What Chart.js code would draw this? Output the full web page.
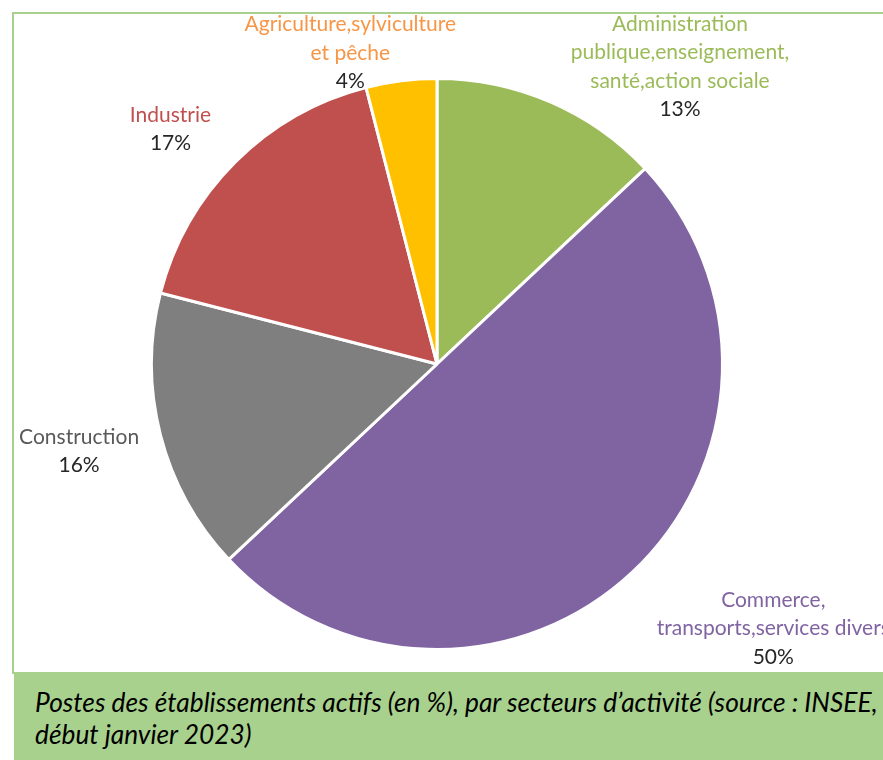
<!DOCTYPE html>
<html>
<head>
<meta charset="utf-8">
<script src="https://cdn.jsdelivr.net/npm/chart.js@4/dist/chart.umd.min.js"></script>
<style>
html, body { margin: 0; padding: 0; background: #fff; overflow: hidden; }
body { width: 883px; height: 760px; position: relative; }
#frame { position: absolute; left: 12px; top: 12px; width: 900px; height: 662px; border: 2px solid #a9d18e; box-sizing: border-box; }
#chart { position: absolute; left: 0; top: 0; }
#caption {
    position: absolute; left: 14px; top: 674px; width: 869px; height: 86px;
    background: #a9d18e; color: #000; box-sizing: border-box; padding: 12px 0 0 21px;
    font: italic 26.3px Lato, sans-serif; line-height: 32px; white-space: nowrap; overflow: hidden;
}
</style>
</head>
<body>
<div id="frame"></div>
<canvas id="chart" width="883" height="760"></canvas>
<div id="caption">Postes des établissements actifs (en %), par secteurs d’activité (source : INSEE,<br>début janvier 2023)</div>
<script>
// sectors, clockwise from the top
const SECTOR_LINES = [
    ['Administration', 'publique,enseignement,', 'santé,action sociale'],
    ['Commerce,', 'transports,services divers'],
    ['Construction'],
    ['Industrie'],
    ['Agriculture,sylviculture', 'et pêche'],
];
const SHARES = [13, 50, 16, 17, 4];

const SLICE_COLORS = ['#9bbb59', '#8064a2', '#7f7f7f', '#c0504d', '#ffc000'];
const LABEL_COLORS = ['#9bbb59', '#8064a2', '#595959', '#c0504d', '#f79646'];
const LABEL_NUDGE = [[97, 40], [87, -1], [-2, -4], [-22, 10], [-43, 35]];
const LABEL_FONT = '21px Lato, sans-serif';
const LINE_H = 28.5;
const GAP = 20;

const outsideLabels = {
    id: 'outsideLabels',
    afterDatasetsDraw(chart) {
        const ctx = chart.ctx;
        const meta = chart.getDatasetMeta(0);
        ctx.save();
        ctx.font = LABEL_FONT;
        ctx.textAlign = 'center';
        ctx.textBaseline = 'middle';
        meta.data.forEach((arc, i) => {
            const p = arc.getProps(['x', 'y', 'startAngle', 'endAngle', 'outerRadius'], true);
            const mid = (p.startAngle + p.endAngle) / 2;
            const ux = Math.cos(mid), uy = Math.sin(mid);
            const lines = [...SECTOR_LINES[i], SHARES[i] + '%'];
            const w = Math.max(...lines.map(l => ctx.measureText(l).width));
            const h = lines.length * LINE_H;
            const reach = Math.min(
                Math.abs(ux) > 1e-6 ? w / 2 / Math.abs(ux) : Infinity,
                Math.abs(uy) > 1e-6 ? h / 2 / Math.abs(uy) : Infinity
            );
            const d = p.outerRadius + GAP + reach;
            const cx = p.x + d * ux + LABEL_NUDGE[i][0];
            const cy = p.y + d * uy + LABEL_NUDGE[i][1];
            lines.forEach((l, k) => {
                ctx.fillStyle = k < lines.length - 1 ? LABEL_COLORS[i] : '#262626';
                ctx.fillText(l, cx, cy - h / 2 + LINE_H * (k + 0.5));
            });
        });
        ctx.restore();
    }
};

new Chart(document.getElementById('chart'), {
    type: 'pie',
    data: {
        labels: SECTOR_LINES.map(l => l.join(' ')),
        datasets: [{
            data: SHARES,
            backgroundColor: SLICE_COLORS,
            borderColor: '#ffffff',
            borderWidth: 3,
        }]
    },
    options: {
        responsive: false,
        animation: false,
        layout: { padding: { left: 150, right: 159, top: 77, bottom: 109 } },
        plugins: {
            legend: { display: false },
            tooltip: { enabled: false },
        }
    },
    plugins: [outsideLabels]
});
</script>
</body>
</html>
